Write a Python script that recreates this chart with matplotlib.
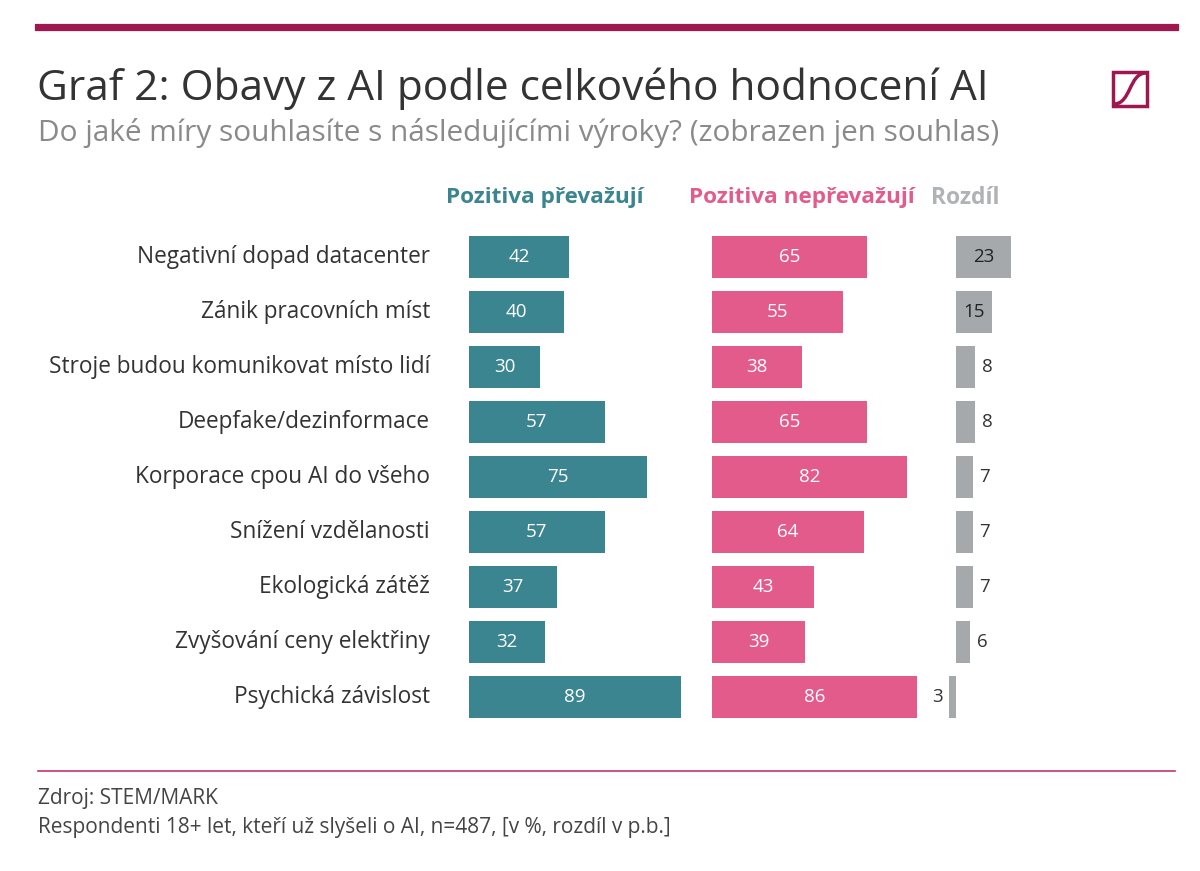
import matplotlib
matplotlib.use("Agg")
from matplotlib import pyplot as plt
from matplotlib.lines import Line2D
from matplotlib.patches import Rectangle, PathPatch
from matplotlib.path import Path

categories = ["Negativní dopad datacenter", "Zánik pracovních míst",
              "Stroje budou komunikovat místo lidí", "Deepfake/dezinformace",
              "Korporace cpou AI do všeho", "Snížení vzdělanosti",
              "Ekologická zátěž", "Zvyšování ceny elektřiny", "Psychická závislost"]
pozitiva_prevazuji = [42, 40, 30, 57, 75, 57, 37, 32, 89]
pozitiva_neprevazuji = [65, 55, 38, 65, 82, 64, 43, 39, 86]
rozdil = [23, 15, 8, 8, 7, 7, 7, 6, -3]

teal = "#3b8590"
pink = "#e25b8b"
grey = "#a6a9ac"
wine = "#a0174f"
txt = "#333333"

plt.rcParams['font.family'] = ['Open Sans', 'DejaVu Sans']

fig = plt.figure(figsize=(12, 8.71), dpi=100)
W, H = 1200, 871
scale = 2.38  # px per percent

def px_axes(left_px, x0, x1):
    bottom = 1 - 724.5 / H
    height = 495 / H
    width = (x1 - x0) * scale / W
    ax = fig.add_axes([left_px / W, bottom, width, height])
    ax.set_xlim(x0, x1)
    ax.set_ylim(len(categories) - 0.5, -0.5)
    ax.axis("off")
    return ax

y = list(range(len(categories)))
h = 42 / 55

ax1 = px_axes(469, 0, 100)
ax1.barh(y, pozitiva_prevazuji, height=h, color=teal)
for i, v in enumerate(pozitiva_prevazuji):
    ax1.text(v / 2, i, str(v), ha="center", va="center", color="white", fontsize=13.5)

ax2 = px_axes(712, 0, 100)
ax2.barh(y, pozitiva_neprevazuji, height=h, color=pink)
for i, v in enumerate(pozitiva_neprevazuji):
    ax2.text(v / 2, i, str(v), ha="center", va="center", color="white", fontsize=13.5)

ax3 = px_axes(956 - 10 * 2.38, -10, 32)
ax3.barh(y, rozdil, height=h, color=grey)
for i, v in enumerate(rozdil):
    if v >= 12:
        ax3.text(v / 2, i, str(v), ha="center", va="center", color="#222222", fontsize=13.5)
    elif v >= 0:
        ax3.text(v + 2.8, i, str(v), ha="left", va="center", color=txt, fontsize=13.5)
    else:
        ax3.text(v - 2.5, i, str(abs(v)), ha="right", va="center", color=txt, fontsize=13.5)

# category labels
for i, c in enumerate(categories):
    ax1.text(-16.4, i, c, ha="right", va="center", color=txt, fontsize=16.3)

# column headers
fig.text(446 / W, 1 - 198 / H, "Pozitiva převažují", color=teal, fontsize=16.2,
         fontweight="bold", ha="left", va="center")
fig.text(689 / W, 1 - 198 / H, "Pozitiva nepřevažují", color=pink, fontsize=16.2,
         fontweight="bold", ha="left", va="center")
fig.text(931 / W, 1 - 198 / H, "Rozdíl", color="#b0b3b6", fontsize=16.5,
         fontweight="bold", ha="left", va="center")

# title block
fig.add_artist(Line2D([38 / W, 1175 / W], [1 - 27 / H, 1 - 27 / H], color=wine, lw=5.2))
fig.text(37 / W, 1 - 89 / H, "Graf 2: Obavy z AI podle celkového hodnocení AI",
         color="#333333", fontsize=30.5, ha="left", va="center")
fig.text(38 / W, 1 - 133 / H, "Do jaké míry souhlasíte s následujícími výroky? (zobrazen jen souhlas)",
         color="#8a8a8a", fontsize=21.4, ha="left", va="center")

# logo
fig.add_artist(Rectangle((1113 / W, 1 - 106 / H), 34 / W, 34 / H, fill=False,
                         edgecolor=wine, lw=2.5))
logo = Path([(1114 / W, 1 - 104 / H), (1131 / W, 1 - 104 / H),
             (1129 / W, 1 - 73 / H), (1146 / W, 1 - 73 / H)],
            [Path.MOVETO, Path.CURVE4, Path.CURVE4, Path.CURVE4])
fig.add_artist(PathPatch(logo, fill=False, edgecolor=wine, lw=2.5,
                         transform=fig.transFigure))

# footer
fig.add_artist(Line2D([38 / W, 1175 / W], [1 - 771 / H, 1 - 771 / H], color="#c8346e", lw=1.2))
fig.text(38 / W, 1 - 798 / H, "Zdroj: STEM/MARK", color="#444444", fontsize=15, ha="left", va="center")
fig.text(38 / W, 1 - 827 / H, "Respondenti 18+ let, kteří už slyšeli o AI, n=487, [v %, rozdíl v p.b.]",
         color="#444444", fontsize=15, ha="left", va="center")

fig.savefig("out.png", dpi=100, facecolor="white")
